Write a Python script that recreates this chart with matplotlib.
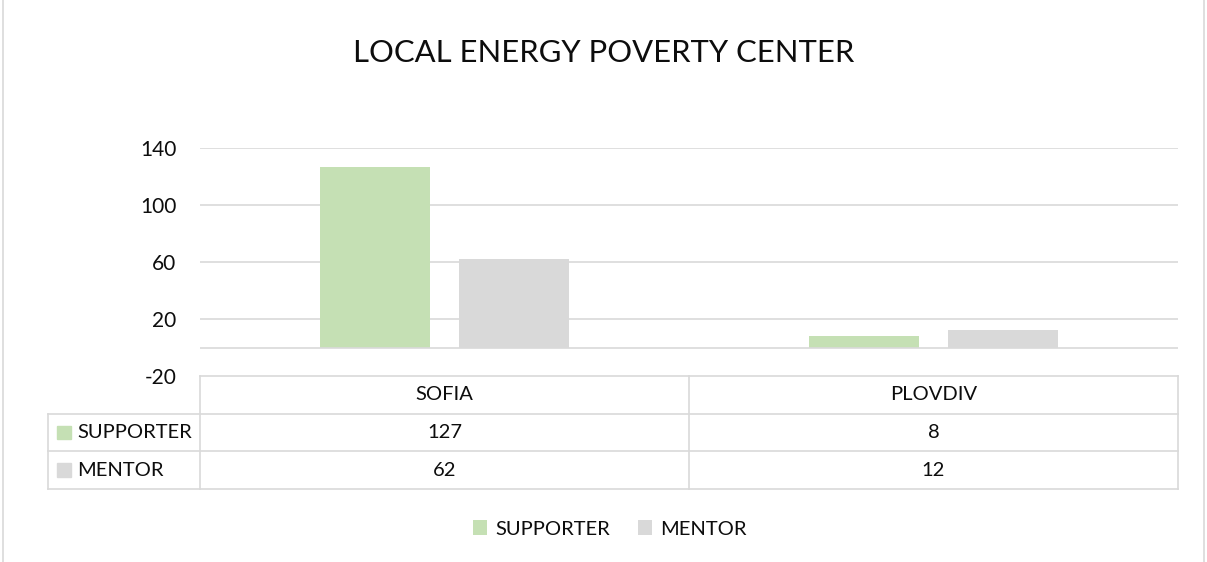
import numpy as np
import matplotlib
matplotlib.use("Agg")
import matplotlib.pyplot as plt
from matplotlib.lines import Line2D
from matplotlib.patches import Rectangle

plt.rcParams['font.family'] = ['Lato', 'DejaVu Sans']
plt.rcParams['axes.unicode_minus'] = False

cities = ['SOFIA', 'PLOVDIV']
series = ['SUPPORTER', 'MENTOR']
supporter = [127, 8]
mentor = [62, 12]
yticks = [-20, 20, 60, 100, 140]

green = '#C5E0B4'
grey = '#D9D9D9'
line_c = '#D9D9D9'
txt = '#0d0d0d'

fig = plt.figure(figsize=(12.07, 5.62), dpi=100)

# chart border
fig.add_artist(Line2D([3 / 1207, 3 / 1207], [0, 1], color=line_c, lw=1.2))
fig.add_artist(Line2D([1204 / 1207, 1204 / 1207], [0, 1], color=line_c, lw=1.2))

fig.text(0.5, 1 - 53 / 562, 'LOCAL ENERGY POVERTY CENTER', ha='center', va='center',
         fontsize=22.3, color=txt)

ax = fig.add_axes([200 / 1207, 1 - 376 / 562, 978 / 1207, 228 / 562])
x = np.arange(len(cities)) + 0.5
w = 0.224
ax.bar(x - 0.142, supporter, w, color=green, label=series[0], zorder=3)
ax.bar(x + 0.142, mentor, w, color=grey, label=series[1], zorder=3)
ax.set_xlim(0, 2)
ax.set_ylim(-20, 140)
ax.set_yticks(yticks)
ax.set_xticks([])
ax.tick_params(axis='y', length=0, pad=17, labelsize=15, labelcolor=txt)
for y in yticks[1:]:
    ax.axhline(y, color=line_c, lw=1.2, zorder=1)
ax.axhline(0, color=line_c, lw=1.2, zorder=4)
for s in ax.spines.values():
    s.set_visible(False)

# data table
tb = fig.add_axes([200 / 1207, 1 - 489 / 562, 978 / 1207, 113 / 562])
tb.set_xlim(0, 2)
tb.set_ylim(3, 0)
tb.axis('off')
left = (48 - 200) / 489
kw = dict(color=line_c, lw=1.2, clip_on=False)
tb.plot([0, 2], [0, 0], **kw)
for r in [1, 2, 3]:
    tb.plot([left, 2], [r, r], **kw)
for c in [0, 1, 2]:
    tb.plot([c, c], [0, 3], **kw)
tb.plot([left, left], [1, 3], **kw)

fs = 14.5
for i, city in enumerate(cities):
    tb.text(i + 0.5, 0.5, city, ha='center', va='center', fontsize=fs, color=txt)
    tb.text(i + 0.5, 1.5, str(supporter[i]), ha='center', va='center', fontsize=fs, color=txt)
    tb.text(i + 0.5, 2.5, str(mentor[i]), ha='center', va='center', fontsize=fs, color=txt)

sq = 14 / 489
for r, (name, col) in enumerate(zip(series, [green, grey])):
    tb.add_patch(Rectangle((left + 9 / 489, r + 1.5 - 0.18), sq, 0.36, color=col, clip_on=False))
    tb.text(left + 29 / 489, r + 1.5, name, ha='left', va='center', fontsize=fs, color=txt)

h, l = ax.get_legend_handles_labels()
fig.legend(h, l, loc='center', bbox_to_anchor=(610 / 1207, 1 - 529 / 562), ncol=2,
           frameon=False, fontsize=fs, handlelength=0.7, handleheight=0.7,
           handletextpad=0.4, columnspacing=1.4, labelcolor=txt)

fig.savefig('out.png', dpi=100)
